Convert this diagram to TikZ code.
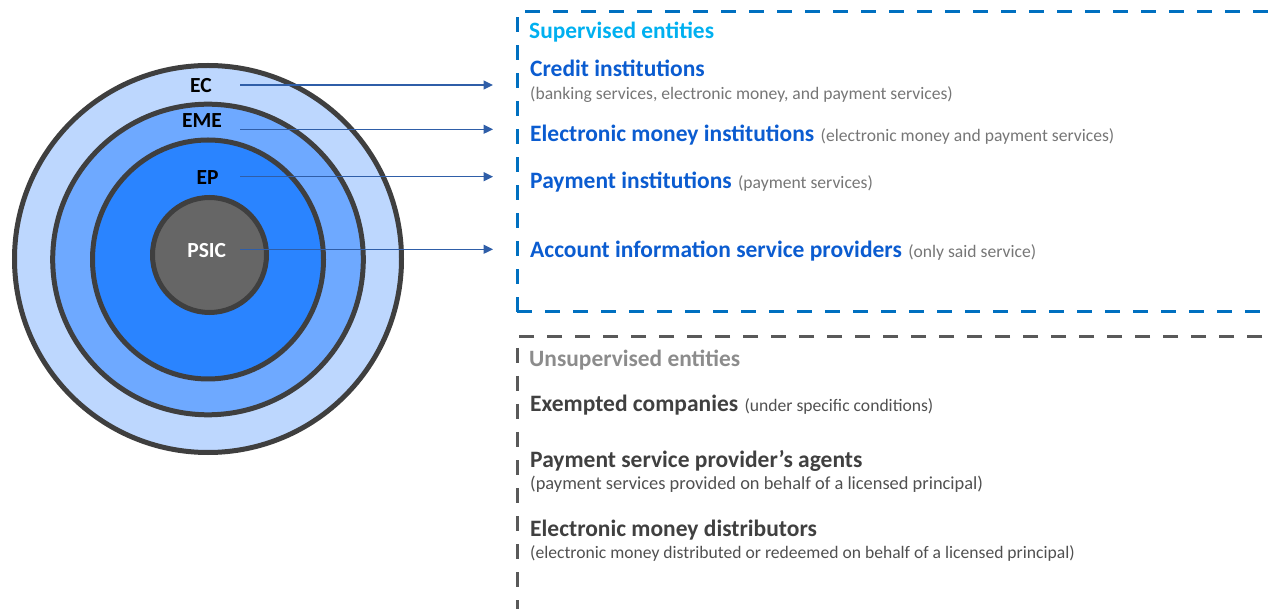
\documentclass[tikz,border=0pt]{standalone}
\usepackage{fontspec}
\setmainfont{Carlito}
\usetikzlibrary{arrows.meta,shapes.geometric}

\definecolor{ringline}{HTML}{3F3F3F}
\definecolor{ringA}{HTML}{BDD7FE}
\definecolor{ringB}{HTML}{6EA9FF}
\definecolor{ringC}{HTML}{2A84FF}
\definecolor{ringD}{HTML}{666666}
\definecolor{arrowblue}{HTML}{2F5EA8}
\definecolor{supblue}{HTML}{0070C0}
\definecolor{suptitle}{HTML}{00B0F0}
\definecolor{suphead}{HTML}{0B5CD0}
\definecolor{supnote}{HTML}{767676}
\definecolor{ungray}{HTML}{595959}
\definecolor{untitle}{HTML}{8C8C8C}
\definecolor{unhead}{HTML}{404040}
\definecolor{unnote}{HTML}{505050}

\begin{document}
\begin{tikzpicture}[x=1pt,y=-1pt,
  ring/.style={ellipse, draw=ringline, line width=5pt, inner sep=0pt},
  ringlabel/.style={anchor=base, inner sep=0pt, font=\fontsize{21.5}{21.5}\selectfont\bfseries},
  conn/.style={draw=arrowblue, line width=1.4pt, -{Triangle[length=9.5pt,width=9pt]}},
  boxline/.style={line width=3pt, dash pattern=on 15pt off 13pt},
  title/.style={anchor=base west, inner sep=0pt, font=\fontsize{23.4}{23.4}\selectfont\bfseries},
  head/.style={anchor=base west, inner sep=0pt, font=\fontsize{23.5}{23.5}\selectfont\bfseries},
  note/.style={anchor=base west, inner sep=0pt, font=\fontsize{17.6}{17.6}\selectfont},
]
\useasboundingbox (0,0) rectangle (1272,609);

% concentric rings
\node[ring, fill=ringA, minimum width=387pt, minimum height=387pt] (rEC)   at (208,259) {};
\node[ring, fill=ringB, minimum width=310.6pt, minimum height=310.6pt] (rEME) at (208,259.5) {};
\node[ring, fill=ringC, minimum width=231pt, minimum height=239pt] (rEP)   at (208,259.5) {};
\node[ring, fill=ringD, minimum width=114pt, minimum height=115pt] (rPSIC) at (209.5,255) {};

\node[ringlabel] (lEC)   at (201,92.5) {EC};
\node[ringlabel] (lEME)  at (202,128) {EME};
\node[ringlabel] (lEP)   at (207.5,185) {EP};
\node[ringlabel, text=white] (lPSIC) at (206.7,258) {PSIC};

% arrow ends
\coordinate (sEC)   at (240,85);
\coordinate (eEC)   at (493,85);
\coordinate (sEME)  at (240,129.3);
\coordinate (eEME)  at (493,129.3);
\coordinate (sEP)   at (240,176.7);
\coordinate (eEP)   at (493,176.7);
\coordinate (sPSIC) at (240,249.3);
\coordinate (ePSIC) at (493,249.3);

\draw[conn] (sEC) -- (eEC);
\draw[conn] (sEME) -- (eEME);
\draw[conn] (sEP) -- (eEP);
\draw[conn] (sPSIC) -- (ePSIC);

% supervised frame
\coordinate (supTR) at (1290,12);
\coordinate (supTL) at (517,12);
\coordinate (supBL) at (517,312);
\coordinate (supBR) at (1290,312);
\draw[boxline, draw=supblue] (supBL) -- (supTL) -- (supTR);
\draw[boxline, draw=supblue] (supBL) -- (supBR);

% unsupervised frame
\coordinate (unTR) at (1290,337);
\coordinate (unTL) at (517,337);
\coordinate (unBL) at (517,625);
\draw[boxline, draw=ungray] (unTR) -- (unTL) -- (unBL);

% supervised entities
\node[title, text=suptitle] (tSup) at (529,38.5) {Supervised entities};
\node[head, text=suphead] (hCI) at (530,77) {Credit institutions};
\node[note, text=supnote] (nCI) at (530,100) {(banking services, electronic money, and payment services)};
\node[head, text=suphead] (hEMI) at (530,141.5) {Electronic money institutions};
\node[note, text=supnote, xshift=6pt] (nEMI) at (hEMI.base east) {(electronic money and payment services)};
\node[head, text=suphead] (hPI) at (530,188.5) {Payment institutions};
\node[note, text=supnote, xshift=6pt] (nPI) at (hPI.base east) {(payment services)};
\node[head, text=suphead] (hAIS) at (530,257.5) {Account information service providers};
\node[note, text=supnote, xshift=6pt] (nAIS) at (hAIS.base east) {(only said service)};

% unsupervised entities
\node[title, text=untitle] (tUn) at (529,367) {Unsupervised entities};
\node[head, text=unhead] (hEX) at (530,412) {Exempted companies};
\node[note, text=unnote, xshift=6pt] (nEX) at (hEX.base east) {(under specific conditions)};
\node[head, text=unhead] (hAG) at (530,467.5) {Payment service provider’s agents};
\node[note, text=unnote, font=\fontsize{18.4}{18.4}\selectfont] (nAG) at (530,489) {(payment services provided on behalf of a licensed principal)};
\node[head, text=unhead] (hED) at (530,536.5) {Electronic money distributors};
\node[note, text=unnote] (nED) at (530,558) {(electronic money distributed or redeemed on behalf of a licensed principal)};
\end{tikzpicture}
\end{document}
